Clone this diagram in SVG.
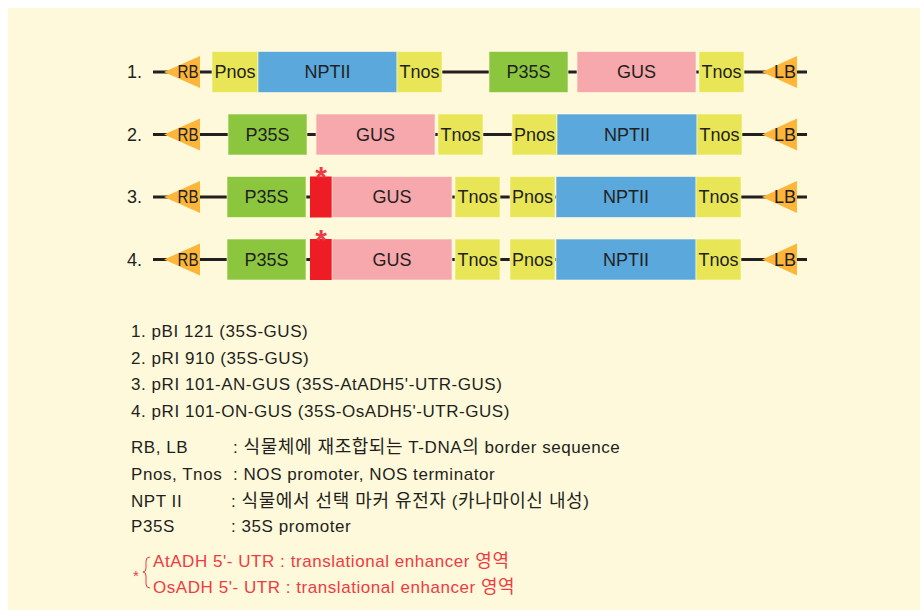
<svg xmlns="http://www.w3.org/2000/svg" width="920" height="610" viewBox="0 0 920 610">
<style>
text{font-family:"Liberation Sans","Noto Sans CJK KR",Arial,sans-serif;fill:#231f20}
.lbl{font-size:18px;text-anchor:middle}
.num{font-size:18px}
.leg{font-size:17px;letter-spacing:0.55px}
.ko{font-size:18px}
.red{fill:#ef3b44}
.ast{font-size:30px;font-weight:bold;text-anchor:middle;fill:#ef3b44}
.bx{stroke:#fffbe0;stroke-opacity:0.6;stroke-width:1}
.y{fill:#e8e656}.b{fill:#5aa8dc}.g{fill:#8cc63f}.p{fill:#f6a8ac}.r{fill:#ee1c25}
.tri{fill:#fdb53a}
.bb{stroke:#231f20;stroke-width:3;fill:none}
</style>
<rect x="8" y="8" width="912" height="602" fill="#fef9da"/>
<g id="connectors">
<line class="bb" x1="153" y1="72" x2="807" y2="72"/>
<line class="bb" x1="153" y1="134.5" x2="807" y2="134.5"/>
<line class="bb" x1="153" y1="197" x2="807" y2="197"/>
<line class="bb" x1="153" y1="259.5" x2="807" y2="259.5"/>
</g>
<g id="row1">
<text class="num" x="127" y="78">1.</text>
<g id="r1-RB"><polygon class="tri" points="164,72 200,56 200,88"/><text class="lbl" x="188" y="78" textLength="21" lengthAdjust="spacingAndGlyphs">RB</text></g>
<g id="r1-Pnos"><rect class="y bx" x="212" y="51.5" width="46" height="41"/><text class="lbl" x="235" y="78">Pnos</text></g>
<g id="r1-NPTII"><rect class="b bx" x="258" y="51.5" width="139" height="41"/><text class="lbl" x="327.5" y="78">NPTII</text></g>
<g id="r1-Tnos1"><rect class="y bx" x="397" y="51.5" width="45" height="41"/><text class="lbl" x="419.5" y="78">Tnos</text></g>
<g id="r1-P35S"><rect class="g bx" x="489" y="51.5" width="79" height="41"/><text class="lbl" x="528.5" y="78">P35S</text></g>
<g id="r1-GUS"><rect class="p bx" x="577" y="51.5" width="119" height="41"/><text class="lbl" x="636.5" y="78">GUS</text></g>
<g id="r1-Tnos2"><rect class="y bx" x="699" y="51.5" width="45" height="41"/><text class="lbl" x="721.5" y="78">Tnos</text></g>
<g id="r1-LB"><polygon class="tri" points="762,72 797,56 797,88"/><text class="lbl" x="785" y="78">LB</text></g>
</g>
<g id="row2">
<text class="num" x="127" y="140.5">2.</text>
<g id="r2-RB"><polygon class="tri" points="164,134.5 200,118.5 200,150.5"/><text class="lbl" x="188" y="140.5" textLength="21" lengthAdjust="spacingAndGlyphs">RB</text></g>
<g id="r2-P35S"><rect class="g bx" x="228" y="114" width="79" height="41"/><text class="lbl" x="267.5" y="140.5">P35S</text></g>
<g id="r2-GUS"><rect class="p bx" x="316" y="114" width="119" height="41"/><text class="lbl" x="375.5" y="140.5">GUS</text></g>
<g id="r2-Tnos1"><rect class="y bx" x="438" y="114" width="45" height="41"/><text class="lbl" x="460.5" y="140.5">Tnos</text></g>
<g id="r2-Pnos"><rect class="y bx" x="512" y="114" width="45" height="41"/><text class="lbl" x="534.5" y="140.5">Pnos</text></g>
<g id="r2-NPTII"><rect class="b bx" x="557" y="114" width="140" height="41"/><text class="lbl" x="627" y="140.5">NPTII</text></g>
<g id="r2-Tnos2"><rect class="y bx" x="697" y="114" width="45" height="41"/><text class="lbl" x="719.5" y="140.5">Tnos</text></g>
<g id="r2-LB"><polygon class="tri" points="762,134.5 797,118.5 797,150.5"/><text class="lbl" x="785" y="140.5">LB</text></g>
</g>
<g id="row3">
<text class="num" x="127" y="203">3.</text>
<g id="r3-RB"><polygon class="tri" points="164,197 200,181 200,213"/><text class="lbl" x="188" y="203" textLength="21" lengthAdjust="spacingAndGlyphs">RB</text></g>
<g id="r3-P35S"><rect class="g bx" x="227" y="176.5" width="79" height="41"/><text class="lbl" x="266.5" y="203">P35S</text></g>
<g id="r3-UTR"><rect class="r" x="310" y="176.5" width="22" height="41"/><text class="ast" x="321" y="187">*</text></g>
<g id="r3-GUS"><rect class="p bx" x="332" y="176.5" width="120" height="41"/><text class="lbl" x="392" y="203">GUS</text></g>
<g id="r3-Tnos1"><rect class="y bx" x="455" y="176.5" width="45" height="41"/><text class="lbl" x="477.5" y="203">Tnos</text></g>
<g id="r3-Pnos"><rect class="y bx" x="510" y="176.5" width="45" height="41"/><text class="lbl" x="532.5" y="203">Pnos</text></g>
<g id="r3-NPTII"><rect class="b bx" x="556" y="176.5" width="140" height="41"/><text class="lbl" x="626" y="203">NPTII</text></g>
<g id="r3-Tnos2"><rect class="y bx" x="696" y="176.5" width="45" height="41"/><text class="lbl" x="718.5" y="203">Tnos</text></g>
<g id="r3-LB"><polygon class="tri" points="762,197 797,181 797,213"/><text class="lbl" x="785" y="203">LB</text></g>
</g>
<g id="row4">
<text class="num" x="127" y="265.5">4.</text>
<g id="r4-RB"><polygon class="tri" points="164,259.5 200,243.5 200,275.5"/><text class="lbl" x="188" y="265.5" textLength="21" lengthAdjust="spacingAndGlyphs">RB</text></g>
<g id="r4-P35S"><rect class="g bx" x="227" y="239" width="79" height="41"/><text class="lbl" x="266.5" y="265.5">P35S</text></g>
<g id="r4-UTR"><rect class="r" x="310" y="239" width="22" height="41"/><text class="ast" x="321" y="249.5">*</text></g>
<g id="r4-GUS"><rect class="p bx" x="332" y="239" width="120" height="41"/><text class="lbl" x="392" y="265.5">GUS</text></g>
<g id="r4-Tnos1"><rect class="y bx" x="455" y="239" width="45" height="41"/><text class="lbl" x="477.5" y="265.5">Tnos</text></g>
<g id="r4-Pnos"><rect class="y bx" x="510" y="239" width="45" height="41"/><text class="lbl" x="532.5" y="265.5">Pnos</text></g>
<g id="r4-NPTII"><rect class="b bx" x="556" y="239" width="140" height="41"/><text class="lbl" x="626" y="265.5">NPTII</text></g>
<g id="r4-Tnos2"><rect class="y bx" x="696" y="239" width="45" height="41"/><text class="lbl" x="718.5" y="265.5">Tnos</text></g>
<g id="r4-LB"><polygon class="tri" points="762,259.5 797,243.5 797,275.5"/><text class="lbl" x="785" y="265.5">LB</text></g>
</g>
<g id="legend">
<text class="leg" x="131" y="337">1. pBI 121 (35S-GUS)</text>
<text class="leg" x="131" y="363.5">2. pRI 910 (35S-GUS)</text>
<text class="leg" x="131" y="390">3. pRI 101-AN-GUS (35S-AtADH5'-UTR-GUS)</text>
<text class="leg" x="131" y="417">4. pRI 101-ON-GUS (35S-OsADH5'-UTR-GUS)</text>
<text class="leg" x="131" y="453">RB, LB</text>
<text class="leg" x="233" y="453">: <tspan class="ko">식물체에 재조합되는</tspan> T-DNA<tspan class="ko">의</tspan> border sequence</text>
<text class="leg" x="131" y="480">Pnos, Tnos</text>
<text class="leg" x="233" y="480">: NOS promoter, NOS terminator</text>
<text class="leg" x="131" y="506.5">NPT II</text>
<text class="leg" x="231" y="506.5">: <tspan class="ko">식물에서 선택 마커 유전자</tspan> (<tspan class="ko">카나마이신 내성</tspan>)</text>
<text class="leg" x="131" y="532">P35S</text>
<text class="leg" x="231" y="532">: 35S promoter</text>
<text class="red" x="136" y="581" font-size="15" text-anchor="middle">*</text>
<path d="M150,557 Q146,557 146,561 L146,568 Q146,572 143,572 Q146,572 146,576 L146,584 Q146,588 150,588" fill="none" stroke="#ef3b44" stroke-width="1"/>
<text class="leg red" x="153" y="567">AtADH 5'- UTR : translational enhancer <tspan class="ko red">영역</tspan></text>
<text class="leg red" x="153" y="593">OsADH 5'- UTR : translational enhancer <tspan class="ko red">영역</tspan></text>
</g>
</svg>
